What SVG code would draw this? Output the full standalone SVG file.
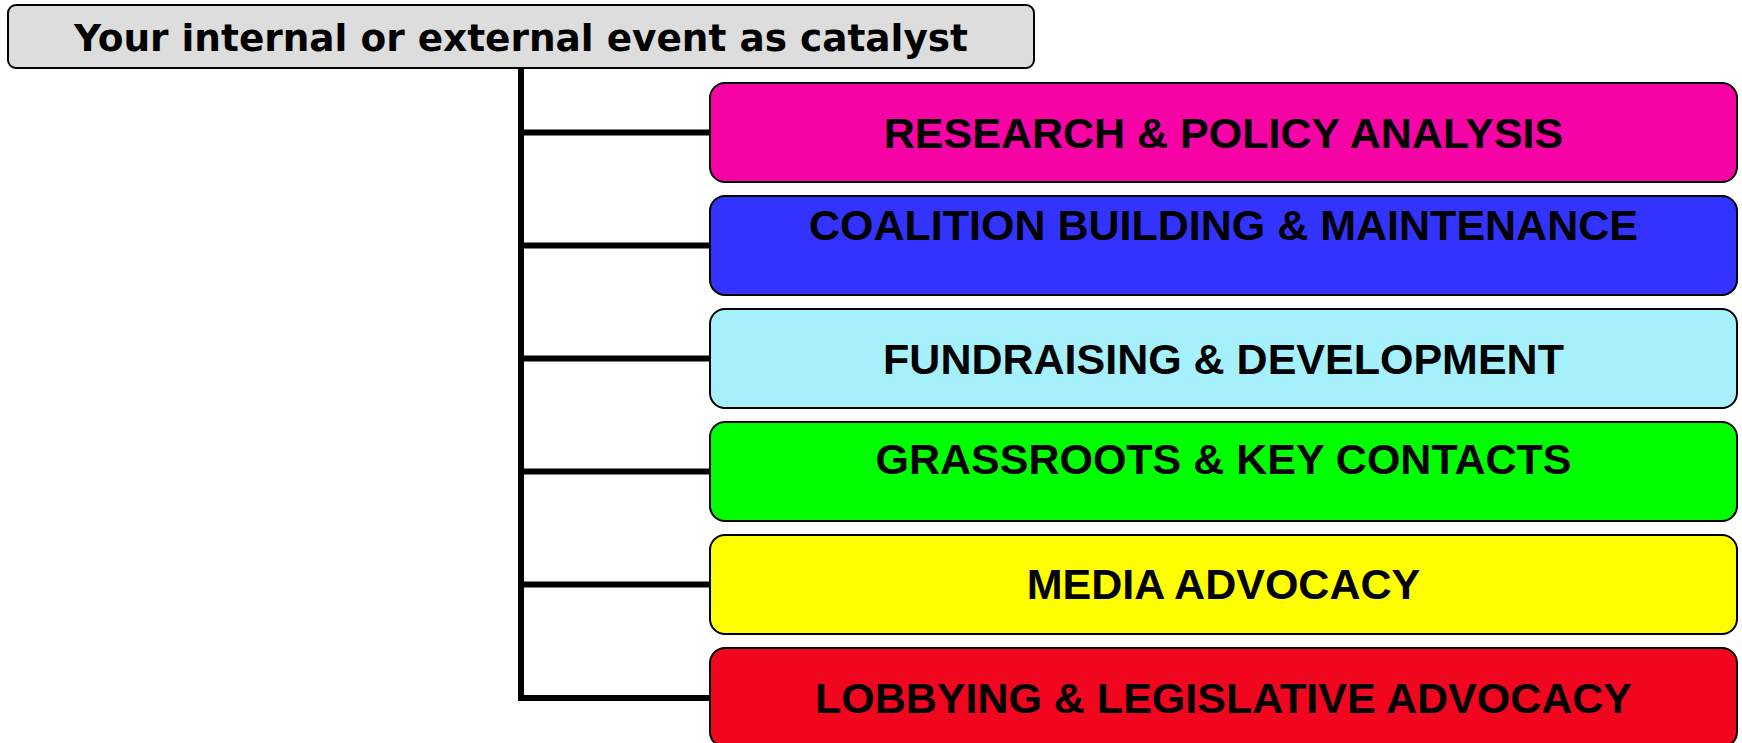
<svg xmlns="http://www.w3.org/2000/svg" width="1742" height="743" viewBox="0 0 1742 743">
  <style>
    .box { stroke: #000; stroke-width: 2; }
    .lbl { font-family: "Liberation Sans", Arial, sans-serif; font-weight: bold; font-size: 43px; fill: #000; text-anchor: middle; }
    .top { font-family: "Comic Sans MS", "DejaVu Sans", sans-serif; font-weight: bold; font-size: 38px; fill: #000; text-anchor: middle; }
    .wire { stroke: #000; stroke-width: 6; fill: none; }
  </style>
  <rect width="1742" height="743" fill="#fff"/>

  <!-- connectors from the catalyst to each activity -->
  <g id="connectors">
    <path class="wire" d="M521 68 V701"/>
    <path class="wire" d="M518 132.5 H711"/>
    <path class="wire" d="M518 245.5 H711"/>
    <path class="wire" d="M518 358.5 H711"/>
    <path class="wire" d="M518 471.5 H711"/>
    <path class="wire" d="M518 584.5 H711"/>
    <path class="wire" d="M518 698 H711"/>
  </g>

  <g id="catalyst">
    <rect class="box" x="8" y="5" width="1026" height="63" rx="8" fill="#DDDDDD"/>
    <text class="top" x="521" y="51" textLength="894" lengthAdjust="spacingAndGlyphs">Your internal or external event as catalyst</text>
  </g>

  <g id="research">
    <rect class="box" x="710" y="83" width="1027" height="99" rx="15" fill="#F603A6"/>
    <text class="lbl" x="1223.5" y="148">RESEARCH &amp; POLICY ANALYSIS</text>
  </g>

  <g id="coalition">
    <rect class="box" x="710" y="196" width="1027" height="99" rx="15" fill="#3333FF"/>
    <text class="lbl" x="1223.5" y="240">COALITION BUILDING &amp; MAINTENANCE</text>
  </g>

  <g id="fundraising">
    <rect class="box" x="710" y="309" width="1027" height="99" rx="15" fill="#A5F0FB"/>
    <text class="lbl" x="1223.5" y="374">FUNDRAISING &amp; DEVELOPMENT</text>
  </g>

  <g id="grassroots">
    <rect class="box" x="710" y="422" width="1027" height="99" rx="15" fill="#00FF00"/>
    <text class="lbl" x="1223.5" y="474">GRASSROOTS &amp; KEY CONTACTS</text>
  </g>

  <g id="media">
    <rect class="box" x="710" y="535" width="1027" height="99" rx="15" fill="#FFFF00"/>
    <text class="lbl" x="1223.5" y="599">MEDIA ADVOCACY</text>
  </g>

  <g id="lobbying">
    <rect class="box" x="710" y="648" width="1027" height="99" rx="15" fill="#F0061E"/>
    <text class="lbl" x="1223.5" y="713">LOBBYING &amp; LEGISLATIVE ADVOCACY</text>
  </g>
</svg>
